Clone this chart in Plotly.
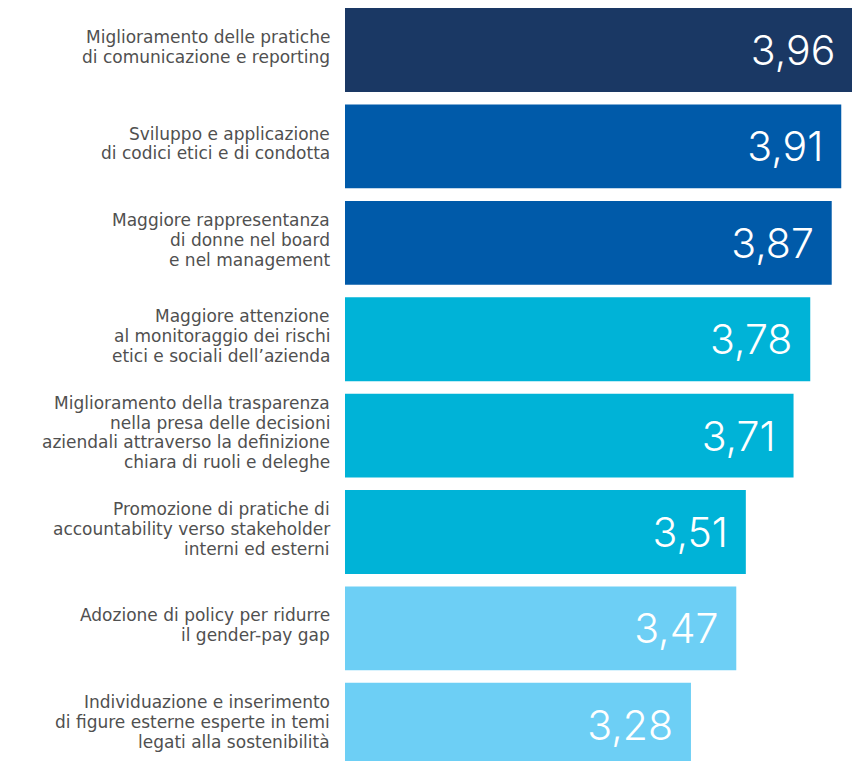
import plotly.graph_objects as go

categories = [
    "Miglioramento delle pratiche<br>di comunicazione e reporting",
    "Sviluppo e applicazione<br>di codici etici e di condotta",
    "Maggiore rappresentanza<br>di donne nel board<br>e nel management",
    "Maggiore attenzione<br>al monitoraggio dei rischi<br>etici e sociali dell’azienda",
    "Miglioramento della trasparenza<br>nella presa delle decisioni<br>aziendali attraverso la definizione<br>chiara di ruoli e deleghe",
    "Promozione di pratiche di<br>accountability verso stakeholder<br>interni ed esterni",
    "Adozione di policy per ridurre<br>il gender-pay gap",
    "Individuazione e inserimento<br>di figure esterne esperte in temi<br>legati alla sostenibilità",
]
values = [3.96, 3.91, 3.87, 3.78, 3.71, 3.51, 3.47, 3.28]
colors = ["#1a3864", "#005aa9", "#005aa9", "#00b3d7", "#00b3d7", "#00b3d7", "#6dcff5", "#6dcff5"]

labels = [f"{v:.2f}".replace(".", ",") + "\u2009\u2009" for v in values]
ypos = list(range(len(categories)))

fig = go.Figure(go.Bar(
    y=ypos,
    x=values,
    orientation="h",
    marker=dict(color=colors, line=dict(width=0)),
    width=0.87,
    text=labels,
    textposition="inside",
    insidetextanchor="end",
    textangle=0,
    constraintext="none",
    insidetextfont=dict(family="Inter", size=41, color="white", weight=300),
    hoverinfo="skip",
))

LINE_H = 19.8
for yi, cat in zip(ypos, categories):
    lines = cat.split("<br>")
    n = len(lines)
    for k, line in enumerate(lines):
        fig.add_annotation(
            x=0, xref="paper", xanchor="right", xshift=-14,
            y=yi, yref="y", yanchor="middle",
            yshift=((n - 1) / 2 - k) * LINE_H + 3,
            text=line, showarrow=False, align="right",
            borderpad=0,
            font=dict(family="DejaVu Sans", size=17, color="#505050"),
        )

fig.update_layout(
    width=852, height=761,
    margin=dict(l=345, r=0, t=0, b=0),
    paper_bgcolor="white", plot_bgcolor="white",
    showlegend=False,
    xaxis=dict(range=[1.83, 3.955], visible=False, fixedrange=True),
    yaxis=dict(
        range=[7.376, -0.519],
        showticklabels=False,
        showgrid=False, zeroline=False, showline=False, ticks="",
        fixedrange=True,
    ),
)

fig.write_html("out.html")
